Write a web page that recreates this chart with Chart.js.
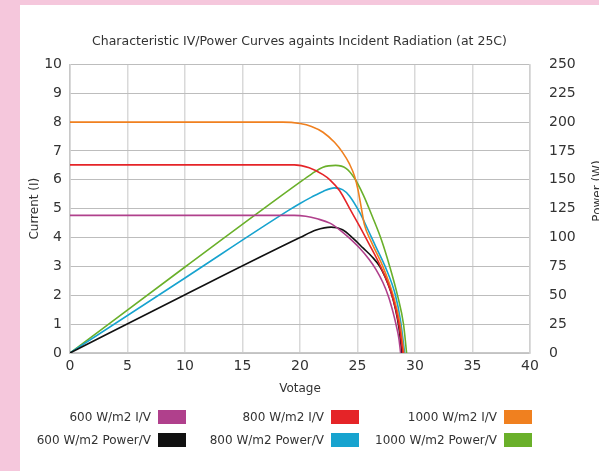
<!DOCTYPE html>
<html>
<head>
<meta charset="utf-8">
<script src="https://cdn.jsdelivr.net/npm/chart.js@4.4.1/dist/chart.umd.min.js"></script>
<style>
    html, body { margin: 0; padding: 0; }
    body { width: 599px; height: 471px; background: #f5c7dc; position: relative; overflow: hidden; font-family: "DejaVu Sans", sans-serif; }
    #panel { position: absolute; left: 20px; top: 5px; width: 600px; height: 480px; background: #fff; }
    #wrap { position: absolute; left: 0; top: 0; width: 599px; height: 471px; }
    .lg { position: absolute; font-size: 12px; color: #333; white-space: nowrap; }
    .lg .txt { position: absolute; right: 35px; top: 0; line-height: 14px; }
    .lg .box { position: absolute; right: 0; top: 0; width: 28px; height: 14px; }
</style>
</head>
<body>
<div id="panel"></div>
<div id="wrap"><canvas id="ivChart" width="599" height="471"></canvas></div>
<div id="legend"></div>

<script>
// --- data ---
const xTicks = [0, 5, 10, 15, 20, 25, 30, 35, 40];

// 600 W/m2
const volt600IV = [0, 10, 19.5, 20.5, 21.5, 22.6, 23.45, 24.3, 25.2, 26, 26.6, 27.2, 27.7, 28.1, 28.4, 28.6, 28.75];
const curr600   = [4.77, 4.77, 4.77, 4.74, 4.65, 4.5, 4.27, 3.98, 3.63, 3.25, 2.9, 2.45, 1.95, 1.4, 0.9, 0.5, 0];
const volt600P  = [0, 10, 20, 21.4, 22.7, 23.7, 24.6, 25.5, 26.3, 26.9, 27.4, 27.9, 28.3, 28.6, 28.86];
const power600  = [0, 50.5, 100, 106.5, 109, 106.8, 99.5, 90.8, 83, 75.5, 66, 53, 38, 22, 0];

// 800 W/m2
const volt800IV = [0, 10, 19.5, 20.8, 22, 22.6, 23.45, 24.3, 25.2, 26, 27, 28, 28.6, 28.95];
const curr800   = [6.52, 6.52, 6.52, 6.42, 6.18, 6.0, 5.62, 5.02, 4.38, 3.78, 3.0, 2.0, 1.0, 0];
const volt800P  = [0, 10, 19, 20, 21, 22, 23, 23.7, 24.3, 25.2, 25.9, 26.6, 27.4, 28.3, 28.75, 29.1];
const power800  = [0, 65, 123.5, 129.5, 135, 140, 143, 141.5, 136, 121.5, 107, 92, 75, 50, 27.5, 0];

// 1000 W/m2
const volt1000IV = [0, 10, 18.5, 20, 21, 22, 23, 23.7, 24.3, 24.75, 25.04, 25.3, 25.6, 26.2, 27.2, 28.1, 28.7, 29.03];
const curr1000   = [8.0, 8.0, 8.0, 7.95, 7.85, 7.65, 7.3, 6.95, 6.55, 6.12, 5.66, 5.1, 4.45, 3.85, 3.0, 2.0, 1.0, 0];
const volt1000P  = [0, 10, 20, 21, 22, 23.1, 24, 24.7, 25.5, 26.3, 27.1, 27.8, 28.5, 29.0, 29.27];
const power1000  = [0, 74.5, 148, 155, 161, 162.5, 160, 152, 137, 118, 97.5, 75, 49, 25, 0];

const seriesNames = ['600 W/m2 I/V', '800 W/m2 I/V', '1000 W/m2 I/V', '600 W/m2 Power/V', '800 W/m2 Power/V', '1000 W/m2 Power/V'];
const seriesColors = ['#b0408c', '#e52428', '#f0801f', '#111111', '#17a3cf', '#6ab02a'];

const font = "'DejaVu Sans', sans-serif";

function pts(xs, ys) {
    return xs.map((x, i) => ({ x: x, y: ys[i] }));
}

const seriesData = [
    pts(volt600IV, curr600), pts(volt800IV, curr800), pts(volt1000IV, curr1000),
    pts(volt600P, power600), pts(volt800P, power800), pts(volt1000P, power1000)
];

const datasets = seriesNames.map((name, i) => ({
    label: name,
    data: seriesData[i],
    yAxisID: i < 3 ? 'y' : 'y2',
    borderColor: seriesColors[i],
    backgroundColor: seriesColors[i],
    borderWidth: 1.6,
    pointRadius: 0,
    fill: false,
    cubicInterpolationMode: 'monotone'
}));

// right axis title reads bottom-to-top in the reference
const powerTitle = {
    id: 'powerTitle',
    afterDraw(chart) {
        const ctx = chart.ctx;
        ctx.save();
        ctx.translate(598, 191);
        ctx.rotate(-Math.PI / 2);
        ctx.font = '12px ' + font;
        ctx.fillStyle = '#333';
        ctx.textAlign = 'center';
        ctx.textBaseline = 'middle';
        ctx.fillText('Power (W)', 0, 0);
        ctx.restore();
    }
};

new Chart(document.getElementById('ivChart'), {
    type: 'line',
    data: { datasets: datasets },
    plugins: [powerTitle],
    options: {
        responsive: false,
        animation: false,
        layout: { padding: { left: 0, right: 0, top: 0, bottom: 71 } },
        plugins: {
            legend: { display: false },
            tooltip: { enabled: false },
            title: {
                display: true,
                text: 'Characteristic IV/Power Curves againts Incident Radiation (at 25C)',
                color: '#333',
                font: { family: font, size: 12.5, weight: 'normal' },
                padding: { top: 34, bottom: 15.4 }
            }
        },
        scales: {
            x: {
                type: 'linear',
                min: 0, max: 40,
                afterBuildTicks: s => { s.ticks = xTicks.map(v => ({ value: v })); },
                afterFit: s => { s.height = 47; },
                ticks: { color: '#333', font: { family: font, size: 14 }, padding: 5, maxRotation: 0 },
                grid: { color: '#d9d9d9', lineWidth: 1.5, drawTicks: false },
                border: { color: '#c8c8c8', width: 1.5 },
                title: { display: true, text: 'Votage', color: '#333', font: { family: font, size: 12 }, padding: { top: 0, bottom: 4 } }
            },
            y: {
                position: 'left',
                min: 0, max: 10,
                afterFit: s => { s.width = 70; },
                ticks: { stepSize: 1, color: '#333', font: { family: font, size: 14 }, padding: 8 },
                grid: { color: '#bdbdbd', lineWidth: 1, drawTicks: false },
                border: { color: '#c8c8c8', width: 1.5 },
                title: { display: true, text: 'Current (I)', color: '#333', font: { family: font, size: 12 }, padding: { top: 28, bottom: 0 } }
            },
            y2: {
                position: 'right',
                min: 0, max: 250,
                afterFit: s => { s.width = 69; },
                ticks: { stepSize: 25, color: '#333', font: { family: font, size: 14 }, padding: 19 },
                grid: { display: false, drawTicks: false },
                border: { color: '#d0d0d0', width: 1.5 }
            }
        }
    }
});

// legend: text on the left, colour box on the right, three columns x two rows
const legendCols = [186, 359, 532];
const legendRows = [410, 433];
const legendEl = document.getElementById('legend');
seriesNames.forEach((name, i) => {
    const col = i % 3;
    const row = Math.floor(i / 3);
    const item = document.createElement('div');
    item.className = 'lg';
    item.style.left = (legendCols[col] - 200) + 'px';
    item.style.top = legendRows[row] + 'px';
    item.style.width = '200px';
    item.style.height = '14px';
    item.innerHTML = '<span class="txt">' + name + '</span><span class="box" style="background:' + seriesColors[i] + '"></span>';
    legendEl.appendChild(item);
});
</script>
</body>
</html>
